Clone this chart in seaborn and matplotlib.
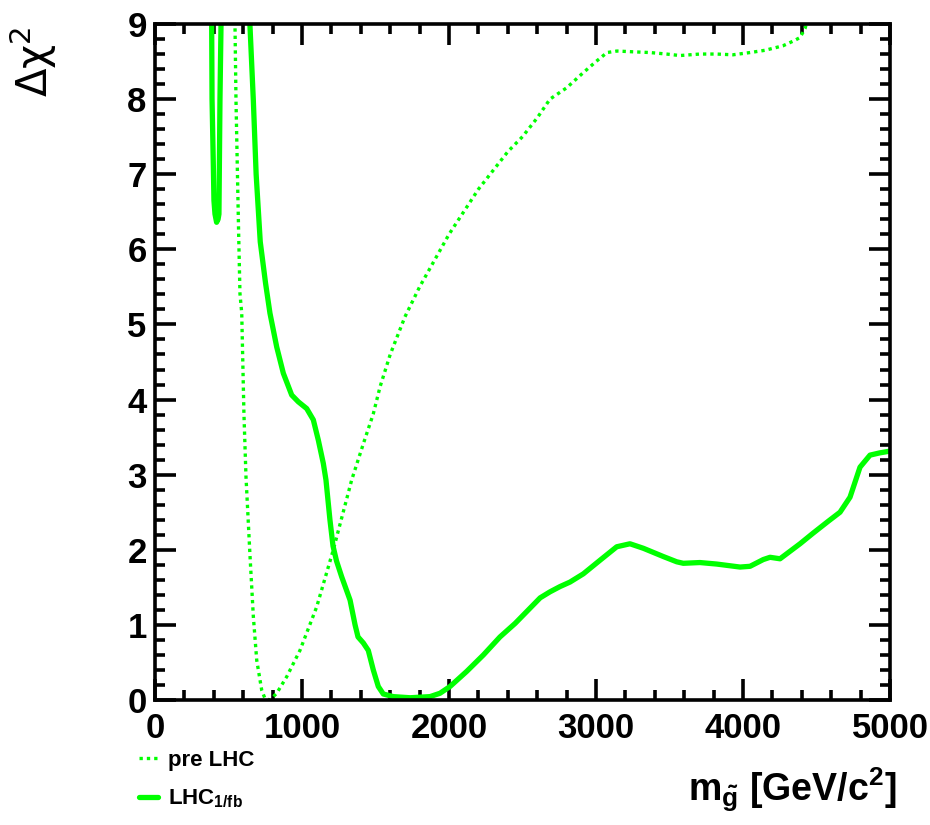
import matplotlib
matplotlib.use("Agg")
import matplotlib.pyplot as plt
from matplotlib import font_manager
from matplotlib.ticker import MultipleLocator
import numpy as np
import pandas as pd
import seaborn as sns

# Delta chi^2 profile versus gluino mass
# pre-LHC fit (dotted)
pre_mass = [540, 551, 560, 569, 578, 590, 605, 619, 646, 669, 692, 726, 748, 782,
            828, 896, 986, 1100, 1213, 1338, 1417, 1485, 1531, 1600, 1700, 1800,
            1900, 2000, 2100, 2200, 2300, 2400, 2500, 2600, 2687, 2800, 2912, 3000,
            3075, 3143, 3250, 3367, 3480, 3571, 3707, 3820, 3932, 4048, 4150, 4272,
            4350, 4388, 4422, 4445]
pre_chi2 = [9.6, 7.98, 7.09, 6.21, 5.41, 5.15, 3.81, 2.97, 1.93, 1.11, 0.53, 0.13,
            0.02, 0.0, 0.09, 0.31, 0.66, 1.24, 2.0, 2.93, 3.41, 3.81, 4.17, 4.6,
            5.1, 5.5, 5.85, 6.2, 6.5, 6.8, 7.05, 7.3, 7.5, 7.75, 8.0, 8.15, 8.35,
            8.5, 8.62, 8.64, 8.63, 8.62, 8.6, 8.58, 8.6, 8.6, 8.59, 8.62, 8.65,
            8.71, 8.78, 8.82, 8.94, 9.1]

# fit including 1/fb of LHC data (solid)
lhc_mass = [384, 388, 397, 401, 408, 419, 429, 435, 442, 449, 452, 550, 643,
            646, 669, 688, 716, 752, 782, 828, 873, 930, 975, 1032, 1077, 1111,
            1145, 1163, 1190, 1211, 1235, 1270, 1327, 1361, 1381, 1417, 1451, 1485,
            1519, 1553, 1621, 1735, 1871, 1939, 2007, 2120, 2234, 2347, 2450, 2540,
            2620, 2687, 2755, 2823, 2914, 3027, 3141, 3231, 3322, 3458, 3549, 3594,
            3707, 3821, 3980, 4048, 4138, 4184, 4252, 4388, 4476, 4580, 4660, 4728,
            4796, 4864, 4930, 4990]
lhc_chi2 = [9.6, 8.0, 7.1, 6.65, 6.47, 6.36, 6.4, 6.47, 8.0, 8.98, 9.6, 12.0, 9.6,
            8.98, 7.98, 7.0, 6.1, 5.55, 5.15, 4.70, 4.35, 4.06, 3.97, 3.88, 3.73,
            3.46, 3.15, 2.93, 2.4, 2.05, 1.85, 1.64, 1.33, 1.0, 0.84, 0.76, 0.66,
            0.40, 0.18, 0.08, 0.045, 0.03, 0.045, 0.09, 0.18, 0.38, 0.6, 0.84, 1.02,
            1.2, 1.36, 1.44, 1.51, 1.57, 1.68, 1.86, 2.04, 2.08, 2.02, 1.91, 1.84,
            1.82, 1.83, 1.81, 1.77, 1.78, 1.87, 1.90, 1.88, 2.08, 2.22, 2.38, 2.5,
            2.7, 3.1, 3.26, 3.29, 3.31]

series_labels = ["pre LHC", r"LHC$_{\mathbf{1/fb}}$"]
x_ticks = [0, 1000, 2000, 3000, 4000, 5000]
y_ticks = list(range(0, 10))

sns.set_theme(style="ticks")
names = {f.name for f in font_manager.fontManager.ttflist}
narrow = "Liberation Sans Narrow" if "Liberation Sans Narrow" in names else "Liberation Sans"
plt.rcParams.update({
    "font.family": [narrow, "DejaVu Sans"],
    "font.weight": "normal",
    "text.color": "black",
    "mathtext.fontset": "custom",
    "mathtext.rm": f"{narrow}:bold",
    "mathtext.bf": f"{narrow}:bold",
    "mathtext.it": f"{narrow}:bold",
    "mathtext.sf": f"{narrow}:bold",
    "axes.linewidth": 2.6,
    "axes.edgecolor": "black",
    "xtick.color": "black",
    "ytick.color": "black",
})

green = "#00ff00"
df_pre = pd.DataFrame({"m": pre_mass, "chi2": pre_chi2})
df_lhc = pd.DataFrame({"m": lhc_mass, "chi2": lhc_chi2})

fig = plt.figure(figsize=(9.3, 8.25), dpi=100)
ax = fig.add_axes([155 / 930, 1 - 700 / 825, 735 / 930, 676 / 825])

sns.lineplot(data=df_pre, x="m", y="chi2", ax=ax, sort=False, estimator=None,
             color=green, linewidth=2.4, linestyle=(0, (1.0, 1.2)))
sns.lineplot(data=df_lhc, x="m", y="chi2", ax=ax, sort=False, estimator=None,
             color=green, linewidth=3.8, solid_joinstyle="round",
             solid_capstyle="round")

ax.set_xlim(0, 5000)
ax.set_ylim(0, 9)
ax.set_xticks(x_ticks)
ax.set_yticks(y_ticks)
ax.xaxis.set_minor_locator(MultipleLocator(200))
ax.yaxis.set_minor_locator(MultipleLocator(0.2))
ax.tick_params(which="both", direction="in", top=True, right=True, width=2.6)
ax.tick_params(which="major", length=15, labelsize=25)
ax.tick_params(axis="x", which="major", pad=9)
ax.tick_params(axis="y", which="major", pad=6)
ax.tick_params(which="minor", length=7.5)
for lab in ax.get_xticklabels() + ax.get_yticklabels():
    lab.set_fontweight("bold")
ax.set_xlabel("")
ax.set_ylabel("")
for s in ax.spines.values():
    s.set_visible(True)
    s.set_linewidth(2.6)

fig.text(33 / 930, 1 - 26 / 825, r"$\Delta\mathrm{\chi}^{2}$", rotation=90,
         ha="center", va="top", fontsize=30, fontweight="normal",
         math_fontfamily="dejavusans")
fig.text(896 / 930, 1 - 790 / 825,
         r"$\mathbf{m}_{\tilde{\mathbf{g}}}$ [GeV/c$^{\mathbf{2}}$]",
         ha="right", va="center", fontsize=27, fontweight="bold")

lines = ax.get_lines()
fig.legend(handles=[lines[0], lines[1]], labels=series_labels,
           loc="upper left", bbox_to_anchor=(139 / 930, 1 - 750 / 825),
           frameon=False, prop={"size": 16, "weight": "bold"},
           handlelength=0.85, handletextpad=0.45,
           labelspacing=0.75, borderpad=0.0, borderaxespad=0.0)

fig.savefig("out.png", dpi=100, facecolor="white")
